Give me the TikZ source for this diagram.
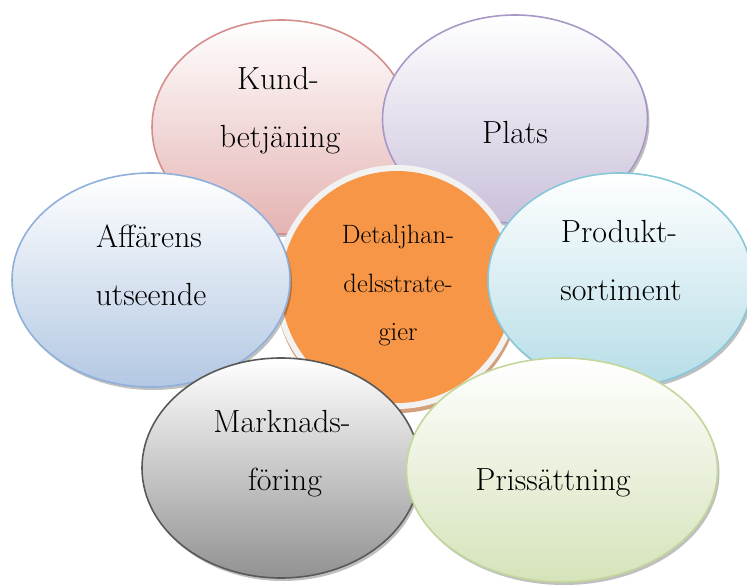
\documentclass[tikz,border=0pt]{standalone}
\usetikzlibrary{shapes.geometric,shadows}
\definecolor{kundB}{HTML}{D48E8C}\definecolor{kundF}{HTML}{E4B3B2}
\definecolor{platsB}{HTML}{A898C6}\definecolor{platsF}{HTML}{CAC0DA}
\definecolor{affB}{HTML}{8EB0DA}\definecolor{affF}{HTML}{B3C8E3}
\definecolor{prodB}{HTML}{86C8DA}\definecolor{prodF}{HTML}{B5DDE7}
\definecolor{markB}{HTML}{595959}\definecolor{markF}{HTML}{929292}
\definecolor{prisB}{HTML}{C3D69B}\definecolor{prisF}{HTML}{D5E3BA}
\definecolor{orng}{HTML}{F79646}\definecolor{ringc}{HTML}{F2F2F2}\definecolor{tan}{HTML}{D4A07C}
\tikzset{
  bubble/.style={ellipse, inner sep=0pt, line width=1.6pt,
    drop shadow={shadow xshift=2pt, shadow yshift=-3pt, opacity=0.25, fill=black}},
  lbl/.style={anchor=base, inner sep=0pt, font=\fontsize{32}{38}\selectfont},
  clbl/.style={anchor=base, inner sep=0pt, font=\fontsize{26.5}{31}\selectfont},
}
\begin{document}
\begin{tikzpicture}[x=1pt,y=-1pt]
\useasboundingbox (0,0) rectangle (747,584);
% Kundbetjaning
\node[bubble, draw=kundB, top color=white, bottom color=kundF,
  minimum width=258pt, minimum height=214pt] (kund) at (281,127) {};
% Plats
\node[bubble, draw=platsB, top color=white, bottom color=platsF,
  minimum width=265pt, minimum height=208pt] (plats) at (515,119) {};
% Center
\node[circle, fill=tan, inner sep=0pt, minimum size=244pt] (csh) at (398,291) {};
\node[circle, fill=ringc, inner sep=0pt, minimum size=244pt] (cring) at (397,287) {};
\node[circle, fill=orng, inner sep=0pt, minimum size=232pt] (center) at (397,287) {};
% Affarens
\node[bubble, draw=affB, top color=white, bottom color=affF,
  minimum width=278pt, minimum height=214pt] (aff) at (151,280) {};
% Produkt
\node[bubble, draw=prodB, top color=white, bottom color=prodF,
  minimum width=264pt, minimum height=214pt] (prod) at (620,280) {};
% Marknadsforing
\node[bubble, draw=markB, top color=white, bottom color=markF,
  minimum width=278pt, minimum height=220pt] (mark) at (281,468) {};
% Prissattning
\node[bubble, draw=prisB, top color=white, bottom color=prisF,
  minimum width=311pt, minimum height=224pt] (pris) at (562,470) {};
% Labels
\node[lbl] (kt1) at (278,89) {Kund-};
\node[lbl] (kt2) at (280,147) {betjäning};
\node[lbl] (pt1) at (515,143) {Plats};
\node[lbl] (at1) at (149,247) {Affärens};
\node[lbl] (at2) at (151,305) {utseende};
\node[lbl] (prt1) at (619,242) {Produkt-};
\node[lbl] (prt2) at (621,300) {sortiment};
\node[lbl] (mt1) at (282,432) {Marknads-};
\node[lbl] (mt2) at (285,490) {föring};
\node[lbl] (st1) at (553,490) {Prissättning};
\node[clbl] (ct1) at (398,243) {Detaljhan-};
\node[clbl] (ct2) at (398,292) {delsstrate-};
\node[clbl] (ct3) at (398,340) {gier};
\end{tikzpicture}
\end{document}
